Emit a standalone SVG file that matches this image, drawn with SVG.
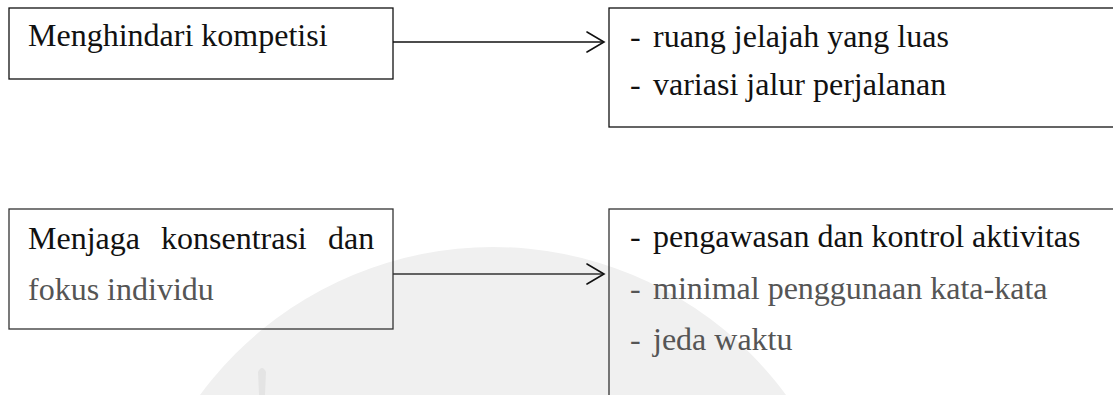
<svg xmlns="http://www.w3.org/2000/svg" width="1113" height="395" viewBox="0 0 1113 395">
  <style>
    text { font-family: "Liberation Serif", "Times New Roman", serif; font-size: 32px; fill: #111; }
    .box { fill: none; stroke: #111; stroke-width: 1.3; }
    .soft { fill: #555; }
    .edge { stroke: #111; stroke-width: 1.3; fill: none; }
    .head { stroke: #111; stroke-width: 1.6; fill: none; stroke-linecap: round; stroke-linejoin: miter; }
  </style>
  <defs>
    <marker id="chevron" viewBox="0 0 20 22" refX="18" refY="11" markerWidth="20" markerHeight="22" markerUnits="userSpaceOnUse" orient="auto">
      <path class="head" d="M1 1 L18 11 L1 21"/>
    </marker>
  </defs>

  <rect width="1113" height="395" fill="#ffffff"/>

  <!-- faint background seal -->
  <g id="seal">
    <circle cx="493" cy="611" r="364" fill="#f0f0f0"/>
    <path d="M258 372 q4 -8 8 0 l-1 23 h-6 z" fill="#e4e4e4"/>
  </g>

  <!-- connectors -->
  <g id="connectors">
    <line class="edge" x1="393" y1="42" x2="604" y2="42" marker-end="url(#chevron)"/>
    <line class="edge" x1="393" y1="274" x2="604" y2="274" marker-end="url(#chevron)" style="stroke:#333"/>
  </g>

  <g id="node-avoid">
    <rect class="box" x="9" y="8" width="384" height="71"/>
    <text x="28" y="46">Menghindari kompetisi</text>
  </g>

  <g id="node-explore">
    <rect class="box" x="609" y="8" width="520" height="119"/>
    <text x="630" y="47">-</text>
    <text x="653" y="47">ruang jelajah yang luas</text>
    <text x="630" y="95">-</text>
    <text x="653" y="95">variasi jalur perjalanan</text>
  </g>

  <g id="node-focus">
    <rect class="box" x="9" y="209" width="384" height="120" style="stroke:#333"/>
    <text y="249"><tspan x="28">Menjaga</tspan><tspan x="161">konsentrasi</tspan><tspan x="328">dan</tspan></text>
    <text class="soft" x="28" y="300">fokus individu</text>
  </g>

  <g id="node-control">
    <rect class="box" x="609" y="209" width="520" height="220" style="stroke:#333"/>
    <text x="630" y="247">-</text>
    <text x="653" y="247">pengawasan dan kontrol aktivitas</text>
    <text class="soft" x="630" y="299">-</text>
    <text class="soft" x="653" y="299">minimal penggunaan kata-kata</text>
    <text class="soft" x="630" y="350">-</text>
    <text class="soft" x="653" y="350">jeda waktu</text>
  </g>
</svg>
